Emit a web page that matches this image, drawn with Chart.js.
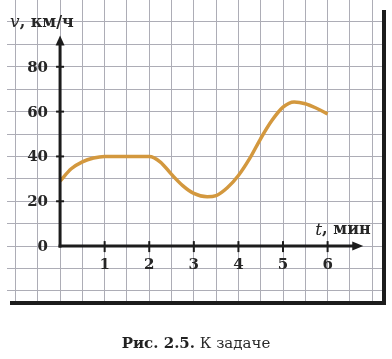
<!DOCTYPE html>
<html><head><meta charset="utf-8">
<script src="https://cdn.jsdelivr.net/npm/chart.js@4"></script>
<style>
html,body{margin:0;padding:0;background:#fff;}
#wrap{position:relative;width:392px;height:359px;overflow:hidden;}
canvas{position:absolute;left:0;top:0;}
#cap{position:absolute;left:0;width:392px;top:333px;text-align:center;font-family:"DejaVu Serif",serif;font-size:15px;color:#2a2a2a;line-height:20px;}
#cap b{color:#222;}
</style></head><body>
<div id="wrap"><canvas id="c" width="392" height="359"></canvas><div id="cap"><b>Рис. 2.5.</b> К задаче</div></div>
<script>
// ---- data ----
const times  = [0, 0.25, 0.5, 0.75, 1, 1.5, 2, 2.25, 2.5, 2.75, 3, 3.3, 3.5, 3.75, 4, 4.25, 4.5, 4.75, 5, 5.25, 5.5, 5.75, 6];
const speeds = [29, 34.5, 37.6, 39.3, 40, 40, 40, 37.5, 32, 27, 23.5, 22, 22.5, 26, 31.5, 39, 48, 56, 62, 64.3, 63.5, 61.5, 59];
const yTickValues = [0, 20, 40, 60, 80];
const yTickLabels = ['0', '20', '40', '60', '80'];
const xTickValues = [1, 2, 3, 4, 5, 6];
const xTickLabels = ['1', '2', '3', '4', '5', '6'];
const yTitleVar = 'v', yTitleUnit = ', км/ч';
const xTitleVar = 't', xTitleUnit = ', мин';

const points = times.map((t, i) => ({x: t, y: speeds[i]}));
const gridColor = '#adadb6';
const ink = '#1c1c1c';

const axesPlugin = {
  id: 'axesPlugin',
  afterDatasetsDraw(chart) {
    const {ctx, chartArea: a, scales: {x, y}} = chart;
    const x0 = x.getPixelForValue(0), y0 = y.getPixelForValue(0);
    const yTip = y.getPixelForValue(94), xTip = x.getPixelForValue(6.8);
    ctx.save();
    // frame bars (bottom and right)
    ctx.fillStyle = ink;
    ctx.fillRect(a.left + 3, a.bottom, a.right - a.left + 1, 4);
    ctx.fillRect(a.right, a.top + 10, 4, a.bottom - a.top - 6);
    // axes
    ctx.strokeStyle = ink; ctx.lineWidth = 3;
    ctx.beginPath(); ctx.moveTo(x0, y0 + 1.5); ctx.lineTo(x0, yTip + 8); ctx.stroke();
    ctx.beginPath(); ctx.moveTo(x0 - 1.5, y0); ctx.lineTo(xTip - 8, y0); ctx.stroke();
    ctx.beginPath(); ctx.moveTo(x0, yTip); ctx.lineTo(x0 - 4.5, yTip + 10); ctx.lineTo(x0 + 4.5, yTip + 10); ctx.closePath(); ctx.fill();
    ctx.beginPath(); ctx.moveTo(xTip, y0); ctx.lineTo(xTip - 11, y0 - 4.5); ctx.lineTo(xTip - 11, y0 + 4.5); ctx.closePath(); ctx.fill();
    // tick marks
    ctx.lineWidth = 2;
    yTickValues.forEach(v => { if (v === 0) return; const py = y.getPixelForValue(v); ctx.beginPath(); ctx.moveTo(x0 - 4, py); ctx.lineTo(x0 + 4, py); ctx.stroke(); });
    xTickValues.forEach(v => { const px = x.getPixelForValue(v); ctx.beginPath(); ctx.moveTo(px, y0 - 5); ctx.lineTo(px, y0 + 6); ctx.stroke(); });
    // tick labels
    ctx.fillStyle = '#262626';
    ctx.font = 'bold 15px "DejaVu Serif"';
    ctx.textAlign = 'right'; ctx.textBaseline = 'middle';
    yTickValues.forEach((v, i) => ctx.fillText(yTickLabels[i], x0 - 12, y.getPixelForValue(v) + 1));
    ctx.textAlign = 'center';
    xTickValues.forEach((v, i) => ctx.fillText(xTickLabels[i], x.getPixelForValue(v), y0 + 19));
    // axis titles
    ctx.textAlign = 'left';
    const drawTitle = (v, unit, px, py) => {
      ctx.font = 'italic 17px "DejaVu Serif"';
      ctx.fillText(v, px, py);
      const w = ctx.measureText(v).width;
      ctx.font = 'bold 16px "DejaVu Serif"';
      ctx.fillText(unit, px + w, py);
    };
    drawTitle(yTitleVar, yTitleUnit, x0 - 50, yTip - 13);
    drawTitle(xTitleVar, xTitleUnit, xTip - 48, y0 - 16);
    ctx.restore();
  }
};

new Chart(document.getElementById('c'), {
  type: 'line',
  data: {
    datasets: [{
      data: points,
      borderColor: '#d3983e',
      borderWidth: 3.5,
      pointRadius: 0,
      fill: false,
      cubicInterpolationMode: 'monotone',
      tension: 0.4
    }]
  },
  options: {
    responsive: false,
    devicePixelRatio: 1,
    animation: false,
    layout: {padding: {left: 7, right: 10, top: 0, bottom: 58}},
    plugins: {legend: {display: false}, tooltip: {enabled: false}, title: {display: false}},
    scales: {
      x: {
        type: 'linear', min: -1.19, max: 7.22,
        ticks: {display: false},
        grid: {drawTicks: false, color: gridColor, lineWidth: 1},
        border: {display: false},
        afterBuildTicks: s => { const t = []; for (let k = -2; k <= 14; k++) t.push({value: k / 2}); s.ticks = t; }
      },
      y: {
        type: 'linear', min: -24.5, max: 109.8,
        ticks: {display: false},
        grid: {drawTicks: false, color: gridColor, lineWidth: 1},
        border: {display: false},
        afterBuildTicks: s => { const t = []; for (let k = -2; k <= 10; k++) t.push({value: k * 10}); s.ticks = t; }
      }
    }
  },
  plugins: [axesPlugin]
});
</script>
</body></html>
